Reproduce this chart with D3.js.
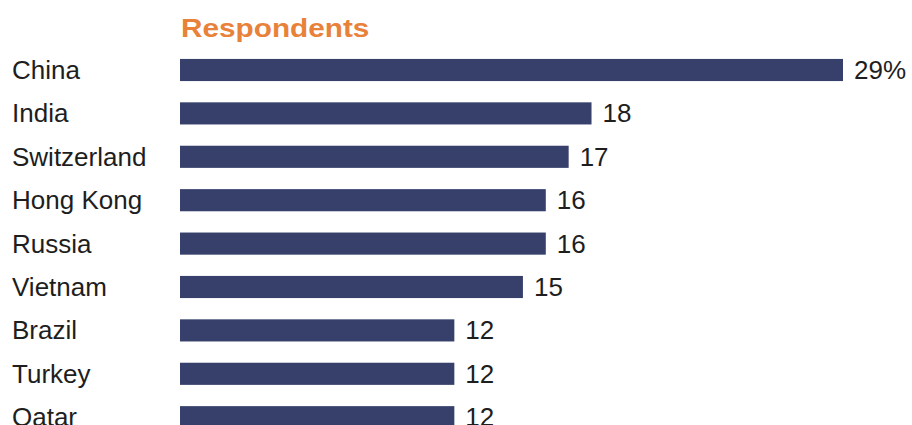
<!DOCTYPE html>
<html><head><meta charset="utf-8">
<script src="https://cdn.jsdelivr.net/npm/d3@7"></script>
<style>body{margin:0;background:#fff;}text{font-family:"Liberation Sans",Arial,sans-serif;}</style>
</head><body>
<svg id="c" width="912" height="425"></svg>
<script>
const categories = ["China","India","Switzerland","Hong Kong","Russia","Vietnam","Brazil","Turkey","Qatar"];
const values = [29,18,17,16,16,15,12,12,12];
const valueLabels = ["29%","18","17","16","16","15","12","12","12"];
const title = "Respondents";

const svg = d3.select("#c");
const x = d3.scaleLinear().domain([0,29]).range([180,843]);
const step = 43.4;
const y = d3.scaleBand().domain(categories).range([70-step/2, 70-step/2+step*categories.length]).paddingInner(0.49).paddingOuter(0.245);

function stretch(sel, k){
  sel.each(function(){
    const w = this.getComputedTextLength();
    d3.select(this).attr("textLength", w*k).attr("lengthAdjust","spacingAndGlyphs");
  });
}

svg.append("text").attr("x",181).attr("y",37).attr("fill","#E8823A")
  .attr("font-weight","bold").attr("font-size",25).text(title).call(stretch, 188/158);

const g = svg.append("g");
categories.forEach((c,i)=>{
  const cy = y(c)+y.bandwidth()/2;
  g.append("rect").attr("x",x(0)).attr("y",y(c)).attr("width",x(values[i])-x(0)).attr("height",y.bandwidth())
    .attr("fill","#37406B");
  g.append("text").attr("x",12).attr("y",cy+9).attr("font-size",25).attr("fill","#1e1e1e").text(c).call(stretch,1.04);
  g.append("text").attr("x",x(values[i])+11).attr("y",cy+9).attr("font-size",25).attr("fill","#1e1e1e").text(valueLabels[i]).call(stretch,1.04);
});
</script>
</body></html>
